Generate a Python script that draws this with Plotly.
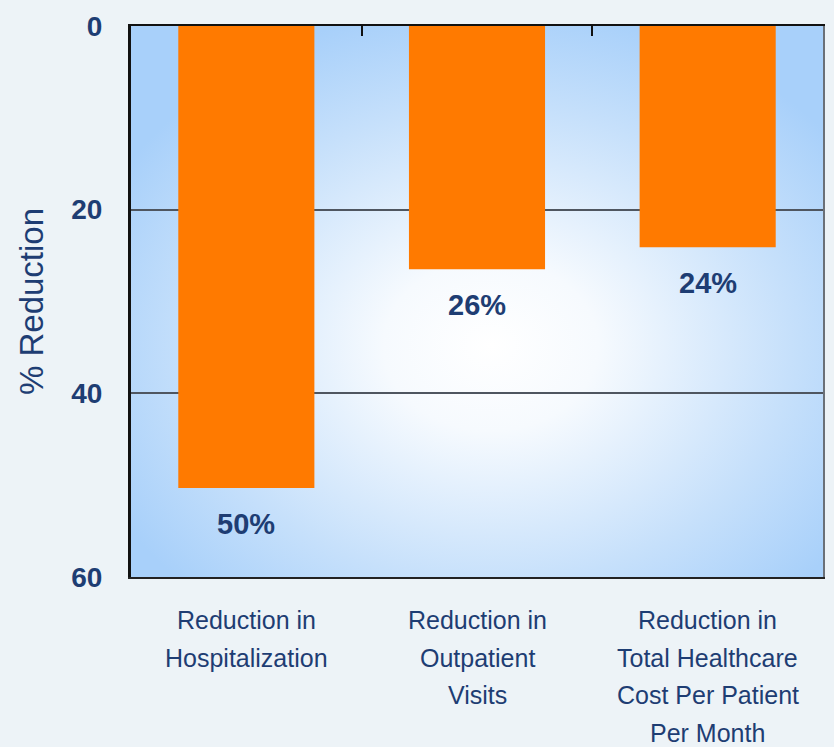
import base64
import plotly.graph_objects as go

categories = ["Reduction in<br>Hospitalization",
              "Reduction in<br>Outpatient<br>Visits",
              "Reduction in<br>Total Healthcare<br>Cost Per Patient<br>Per Month"]
values = [50.3, 26.5, 24.1]
value_labels = ["50%", "26%", "24%"]
y_ticks = [0, 20, 40, 60]

NAVY = "#1E3D73"
BAR = "#FF7A00"
FONT = "Liberation Sans"

svg = ('<svg xmlns="http://www.w3.org/2000/svg" width="600" height="500" '
       'viewBox="0 0 600 500" preserveAspectRatio="none">'
       '<defs><radialGradient id="g" cx="0.52" cy="0.58" r="0.62">'
       '<stop offset="0" stop-color="#FFFFFF"/>'
       '<stop offset="0.25" stop-color="#F6FAFE"/>'
       '<stop offset="0.7" stop-color="#C6E0FB"/>'
       '<stop offset="1" stop-color="#A8D0FA"/>'
       '</radialGradient></defs>'
       '<rect width="600" height="500" fill="url(#g)"/></svg>')
src = "data:image/svg+xml;base64," + base64.b64encode(svg.encode()).decode()

fig = go.Figure()
fig.add_trace(go.Bar(x=categories, y=values, marker=dict(color=BAR, line=dict(width=0)),
                     width=0.59, hoverinfo="skip", showlegend=False))

# invisible trace for top/right axes
fig.add_trace(go.Scatter(x=[0], y=[0], xaxis="x2", yaxis="y2", mode="markers",
                         marker=dict(opacity=0), showlegend=False, hoverinfo="skip"))

annotations = []
for c, v, t in zip(categories, values, value_labels):
    annotations.append(dict(x=c, y=v, xref="x", yref="y", text=f"<b>{t}</b>",
                            showarrow=False, yanchor="top", yshift=-18,
                            font=dict(family=FONT, size=29, color=NAVY)))
    for i, line in enumerate(c.split("<br>")):
        annotations.append(dict(x=c, y=0, xref="x", yref="paper", text=line,
                                showarrow=False, yanchor="top", yshift=-27 - i * 37.5,
                                font=dict(family=FONT, size=25, color=NAVY)))

fig.update_layout(
    width=834, height=747,
    margin=dict(l=131, r=11, t=20, b=170),
    paper_bgcolor="#EDF3F7",
    plot_bgcolor="rgba(0,0,0,0)",
    images=[dict(source=src, xref="paper", yref="paper", x=0, y=1, sizex=1, sizey=1,
                 xanchor="left", yanchor="top", sizing="stretch", layer="below")],
    xaxis=dict(showticklabels=False, showgrid=False, ticks="",
               showline=True, linecolor="#222222", linewidth=2, zeroline=False),
    xaxis2=dict(overlaying="x", side="top", range=[-0.5, 2.5], tickvals=[0.5, 1.5],
                ticks="inside", ticklen=10, tickwidth=2, tickcolor="#111111",
                showticklabels=False, showgrid=False, zeroline=False,
                showline=True, linecolor="#111111", linewidth=2),
    yaxis=dict(range=[60, 0], tickvals=y_ticks, ticktext=[f"<b>{v}</b>" for v in y_ticks],
               ticks="", ticklabelstandoff=20,
               tickfont=dict(family=FONT, size=28, color=NAVY),
               showgrid=True, gridcolor="#4F5660", gridwidth=1.5, zeroline=False,
               showline=True, linecolor="#111111", linewidth=3,
               title=dict(text="% Reduction", standoff=18,
                          font=dict(family=FONT, size=33, color=NAVY))),
    yaxis2=dict(overlaying="y", side="right", range=[60, 0], showticklabels=False,
                ticks="", showgrid=False, zeroline=False,
                showline=True, linecolor="#6A7078", linewidth=1.5),
    annotations=annotations,
    bargap=0.41,
)

fig.write_html("out.html")
